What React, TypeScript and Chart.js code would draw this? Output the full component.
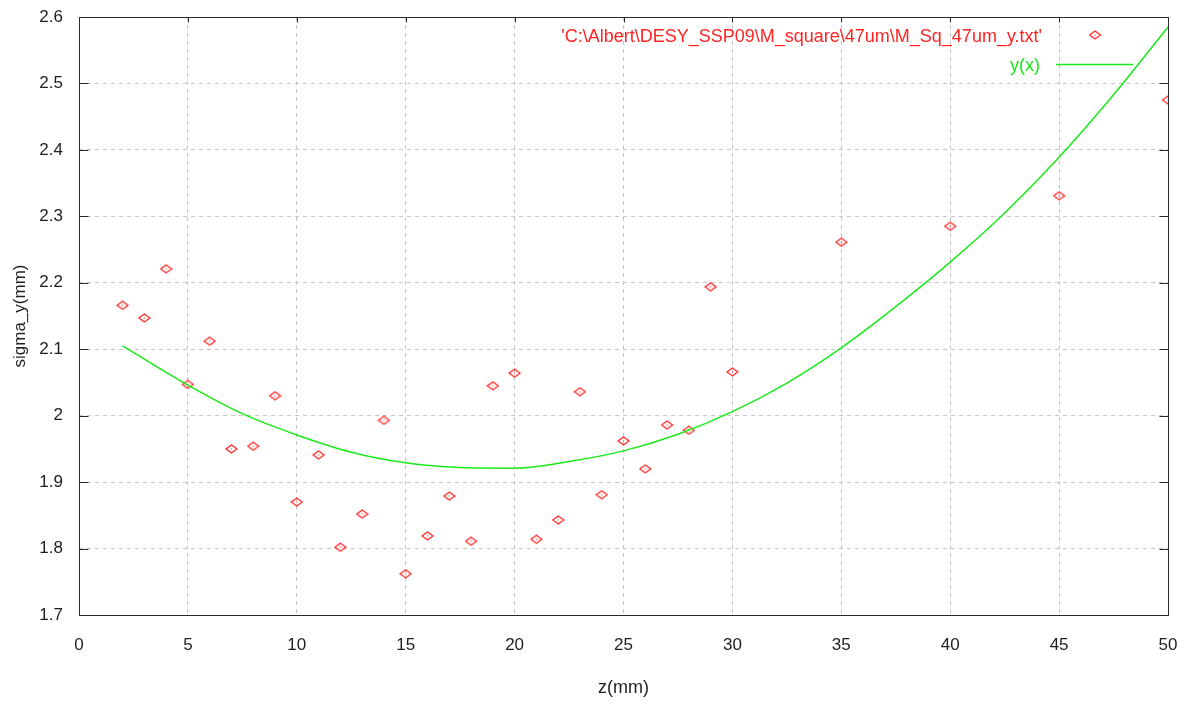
import React, { useEffect, useRef } from "react";
import { Chart, registerables } from "chart.js";

Chart.register(...registerables);

// Measured data: z (mm) and sigma_y (mm)
const zValues = [2, 3, 4, 5, 6, 7, 8, 9, 10, 11, 12, 13, 14, 15, 16, 17, 18, 19, 20, 21, 22, 23, 24, 25, 26, 27, 28, 29, 30, 35, 40, 45, 50];
const sigmaValues = [2.166, 2.147, 2.221, 2.047, 2.112, 1.950, 1.954, 2.030, 1.870, 1.941, 1.802, 1.852, 1.993, 1.762, 1.819, 1.879, 1.811, 2.045, 2.064, 1.814, 1.843, 2.036, 1.881, 1.962, 1.920, 1.986, 1.978, 2.194, 2.066, 2.261, 2.285, 2.331, 2.475];

// Fitted curve y(x)
const fitZ = [2, 5, 7.5, 10, 12.5, 15, 17.5, 20, 22.5, 25, 27.5, 30, 32.5, 35, 37.5, 40, 42.5, 45, 47.5, 50];
const fitSigma = [2.105, 2.046, 2.003, 1.971, 1.945, 1.929, 1.922, 1.921, 1.931, 1.947, 1.972, 2.006, 2.049, 2.102, 2.164, 2.231, 2.305, 2.389, 2.483, 2.585];

const xTickValues = [0, 5, 10, 15, 20, 25, 30, 35, 40, 45, 50];
const xTickLabels = ["0", "5", "10", "15", "20", "25", "30", "35", "40", "45", "50"];
const yTickValues = [1.7, 1.8, 1.9, 2.0, 2.1, 2.2, 2.3, 2.4, 2.5, 2.6];
const yTickLabels = ["1.7", "1.8", "1.9", "2", "2.1", "2.2", "2.3", "2.4", "2.5", "2.6"];

const dataLabel = "'C:\\Albert\\DESY_SSP09\\M_square\\47um\\M_Sq_47um_y.txt'";
const fitLabel = "y(x)";
const xTitle = "z(mm)";
const yTitle = "sigma_y(mm)";

const RED = "rgb(255,35,35)";
const GREEN = "rgb(25,235,25)";
const TEXT = "#1e1e1e";
const FONT = '"Liberation Sans", Arial, sans-serif';

function makeDiamond(color: string): HTMLCanvasElement {
  const c = document.createElement("canvas");
  c.width = 13;
  c.height = 10;
  const g = c.getContext("2d")!;
  g.strokeStyle = color;
  g.lineWidth = 1.3;
  g.beginPath();
  g.moveTo(1, 5);
  g.lineTo(6.5, 1);
  g.lineTo(12, 5);
  g.lineTo(6.5, 9);
  g.closePath();
  g.stroke();
  g.fillStyle = color;
  g.fillRect(6, 4.5, 1, 1);
  return c;
}

export default function App() {
  const ref = useRef<HTMLCanvasElement | null>(null);

  useEffect(() => {
    if (!ref.current) return;
    const diamond = makeDiamond(RED);

    const framePlugin = {
      id: "gnuFrame",
      afterDatasetsDraw(chart: any) {
        const { ctx, chartArea } = chart;
        const { left, right, top, bottom } = chartArea;
        const xs = chart.scales.x;
        const ys = chart.scales.y;
        ctx.save();
        ctx.strokeStyle = "#2a2a2a";
        ctx.lineWidth = 1;
        ctx.setLineDash([]);
        const L = Math.round(left) + 0.5;
        const R = Math.round(right) + 0.5;
        const T = Math.round(top) + 0.5;
        const B = Math.round(bottom) + 0.5;
        ctx.strokeRect(L, T, R - L, B - T);
        ctx.beginPath();
        yTickValues.forEach((v) => {
          const y = Math.round(ys.getPixelForValue(v)) + 0.5;
          ctx.moveTo(L, y);
          ctx.lineTo(L + 9, y);
          ctx.moveTo(R, y);
          ctx.lineTo(R - 9, y);
        });
        xTickValues.forEach((v) => {
          const x = Math.round(xs.getPixelForValue(v)) + 0.5;
          ctx.moveTo(x, T);
          ctx.lineTo(x, T + 5);
        });
        ctx.stroke();
        ctx.restore();
      },
      afterDraw(chart: any) {
        const { ctx } = chart;
        const ds = chart.data.datasets;
        ctx.save();
        ctx.font = "18px " + FONT;
        ctx.textAlign = "right";
        ctx.textBaseline = "middle";
        ctx.fillStyle = RED;
        ctx.fillText(ds[1].label, 1042, 37);
        ctx.drawImage(diamond, 1095 - 6.5, 35 - 5);
        ctx.fillStyle = GREEN;
        ctx.fillText(ds[0].label, 1040, 66);
        ctx.strokeStyle = GREEN;
        ctx.lineWidth = 1.5;
        ctx.beginPath();
        ctx.moveTo(1056, 64.5);
        ctx.lineTo(1133, 64.5);
        ctx.stroke();
        ctx.restore();
      },
    };

    const zeroPad = (s: any) => {
      s.paddingTop = 0;
      s.paddingBottom = 0;
      s.paddingLeft = 0;
      s.paddingRight = 0;
    };

    const chart = new Chart(ref.current, {
      type: "scatter",
      data: {
        datasets: [
          {
            label: fitLabel,
            data: fitZ.map((x, i) => ({ x, y: fitSigma[i] })),
            showLine: true,
            borderColor: GREEN,
            borderWidth: 1.5,
            pointRadius: 0,
            cubicInterpolationMode: "monotone",
            order: 0,
          },
          {
            label: dataLabel,
            data: zValues.map((x, i) => ({ x, y: sigmaValues[i] })),
            showLine: false,
            pointStyle: diamond,
            pointRadius: 5,
            borderColor: RED,
            backgroundColor: RED,
            order: 1,
          },
        ],
      } as any,
      options: {
        animation: false,
        responsive: false,
        events: [],
        layout: { padding: { top: 17, right: 19, left: 0, bottom: 0 } },
        plugins: {
          legend: { display: false },
          tooltip: { enabled: false },
        },
        scales: {
          x: {
            type: "linear",
            min: 0,
            max: 50,
            afterFit: (s: any) => {
              s.height = 89;
              zeroPad(s);
            },
            afterBuildTicks: (s: any) => {
              s.ticks = xTickValues.map((v) => ({ value: v }));
            },
            ticks: {
              padding: 20,
              color: TEXT,
              font: { family: FONT, size: 17 },
              callback: (v: any) => xTickLabels[xTickValues.indexOf(Number(v))] ?? String(v),
              maxRotation: 0,
              autoSkip: false,
            },
            grid: {
              color: "#c4c4c4",
              lineWidth: 1,
              drawTicks: false,
            },
            border: { display: false, dash: [4, 4] },
            title: {
              display: true,
              text: xTitle,
              color: TEXT,
              font: { family: FONT, size: 18 },
              padding: { top: 0, bottom: 5 },
            },
          },
          y: {
            type: "linear",
            min: 1.7,
            max: 2.6,
            afterFit: (s: any) => {
              s.width = 79;
              zeroPad(s);
            },
            afterBuildTicks: (s: any) => {
              s.ticks = yTickValues.map((v) => ({ value: v }));
            },
            ticks: {
              padding: 16,
              color: TEXT,
              font: { family: FONT, size: 17 },
              autoSkip: false,
              callback: (v: any) => {
                const i = yTickValues.findIndex((t) => Math.abs(t - Number(v)) < 1e-6);
                return i >= 0 ? yTickLabels[i] : String(v);
              },
            },
            grid: {
              color: "#c4c4c4",
              lineWidth: 1,
              drawTicks: false,
            },
            border: { display: false, dash: [4, 4] },
            title: {
              display: true,
              text: yTitle,
              color: TEXT,
              font: { family: FONT, size: 17 },
              padding: { top: 10, bottom: 0 },
            },
          },
        },
      } as any,
      plugins: [framePlugin],
    });

    return () => chart.destroy();
  }, []);

  return (
    <div style={{ position: "fixed", left: 0, top: 0, width: 1187, height: 704, background: "#fff" }}>
      <canvas ref={ref} width={1187} height={704} style={{ display: "block" }} />
    </div>
  );
}
